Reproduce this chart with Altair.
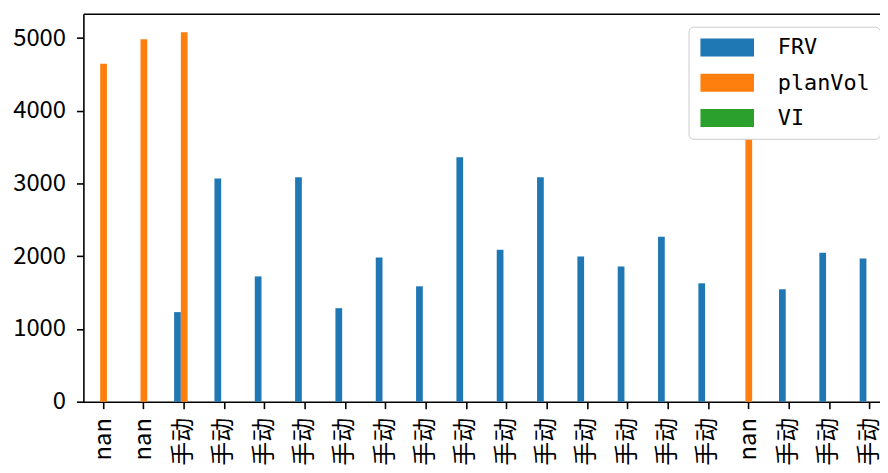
import altair as alt
import pandas as pd

# ---- data ----
labels = ['nan', 'nan', '手动', '手动', '手动', '手动', '手动', '手动', '手动', '手动',
          '手动', '手动', '手动', '手动', '手动', '手动', 'nan', '手动', '手动', '手动']
frv = [None, None, 1232, 3070, 1723, 3087, 1286, 1982, 1587, 3360,
       2091, 3087, 1996, 1859, 2269, 1628, None, 1546, 2050, 1968]
plan_vol = [4647, 4984, 5079, None, None, None, None, None, None, None,
            None, None, None, None, None, None, 4000, None, None, None]
vi = [None] * 20
series = ['FRV', 'planVol', 'VI']
colors = ['#1f77b4', '#ff7f0e', '#2ca02c']
y_ticks = [0, 1000, 2000, 3000, 4000, 5000]
y_max = 5334

rows = []
for i, lab in enumerate(labels):
    for s, vals in zip(series, [frv, plan_vol, vi]):
        v = vals[i]
        if v is not None:
            rows.append({'idx': i, 'label': lab, 'series': s, 'value': v})
df = pd.DataFrame(rows)

label_expr = "[" + ",".join("'" + l + "'" for l in labels) + "][datum.value]"

FONT = 'Noto Sans CJK SC'

x_scale = alt.Scale(domain=list(range(len(labels))), paddingInner=0.5, paddingOuter=0.25)
y_scale = alt.Scale(domain=[0, y_max], nice=False, zero=True)

bars = alt.Chart(df).mark_bar().encode(
    x=alt.X('idx:O', scale=x_scale, title=None,
            axis=alt.Axis(orient='bottom', labelExpr=label_expr, labelAngle=270,
                          labelAlign='right', labelBaseline='middle', labelPadding=9,
                          labelFont=FONT, labelFontSize=24, labelColor='black',
                          tickSize=7, tickColor='black', tickWidth=1.6,
                          domainColor='black', domainWidth=1.6, grid=False)),
    xOffset=alt.XOffset('series:N', scale=alt.Scale(domain=series, paddingInner=0, paddingOuter=0)),
    y=alt.Y('value:Q', scale=y_scale, title=None,
            axis=alt.Axis(values=y_ticks, format='d', labelFont=FONT, labelFontSize=24,
                          labelColor='black', labelPadding=11, tickSize=7, tickColor='black',
                          tickWidth=1.6, domainColor='black', domainWidth=1.6, grid=False)),
    color=alt.Color('series:N', scale=alt.Scale(domain=series, range=colors),
                    legend=alt.Legend(title=None, orient='none', legendX=610, legendY=13,
                                      symbolType='M-1,-1H5V1H-1Z', symbolSize=324,
                                      symbolStrokeWidth=0, symbolOpacity=1,
                                      labelFont='DejaVu Sans Mono', labelFontSize=22,
                                      labelColor='black', labelOffset=58, rowPadding=13.5,
                                      padding=10, strokeColor='#cccccc', fillColor='white',
                                      cornerRadius=5)),
)

top = alt.Chart(df).mark_bar(opacity=0).encode(
    x=alt.X('idx:O', scale=x_scale, title=None,
            axis=alt.Axis(orient='top', labels=False, ticks=False, grid=False,
                          domainColor='black', domainWidth=1.6)),
)

# the reference axes run past the right edge of the picture: negative right padding crops them
chart = alt.layer(bars, top).resolve_axis(x='independent').properties(
    width=813, height=391,
    padding={'left': 76, 'top': 4, 'right': -10, 'bottom': 69},
    autosize=alt.AutoSizeParams(type='none'),
).configure_view(stroke=None)

chart.save("out.html", embed_options={"renderer": "svg", "actions": False})
